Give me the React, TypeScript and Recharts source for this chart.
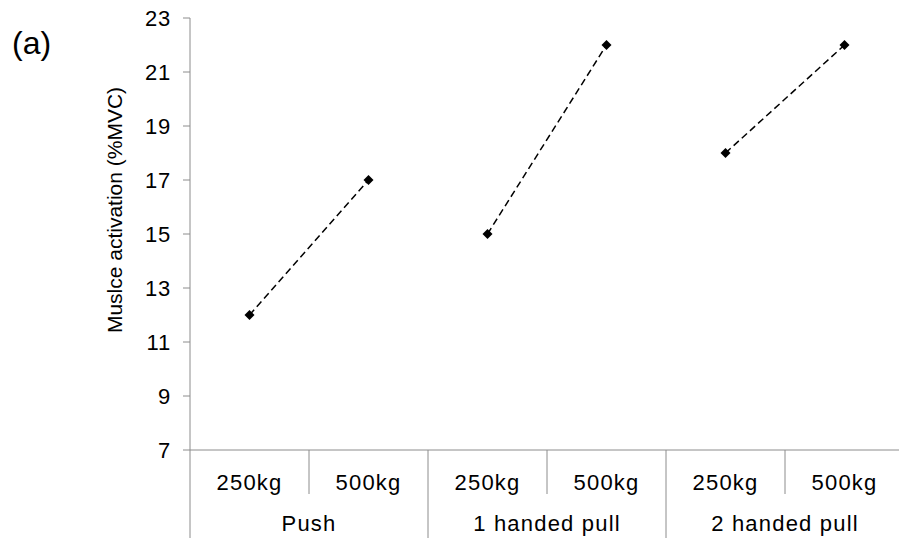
import { Line, LineChart, XAxis, YAxis } from "recharts";

const loads = ["250kg", "500kg", "250kg", "500kg", "250kg", "500kg"];
const groups = ["Push", "1 handed pull", "2 handed pull"];
const pushValues = [12, 17];
const oneHandValues = [15, 22];
const twoHandValues = [18, 22];
const yTicks = [7, 9, 11, 13, 15, 17, 19, 21, 23];

const AXIS = "#8c8c8c";
const FONT = "'Liberation Sans', Arial, sans-serif";

// one row per category; each group's series only has values in its own two slots
const data = loads.map((load, i) => ({
  key: `c${i}`,
  load,
  push: i < 2 ? pushValues[i] : null,
  one: i >= 2 && i < 4 ? oneHandValues[i - 2] : null,
  two: i >= 4 ? twoHandValues[i - 4] : null,
}));

const HALF_BAND = 59.5;

const Diamond = (props: any) => {
  const { cx, cy, value, index, dataKey } = props;
  if (value == null || cx == null || cy == null) return <g key={`${dataKey}-${index}`} />;
  return (
    <path
      key={`${dataKey}-${index}`}
      d={`M${cx},${cy - 5} L${cx + 5},${cy} L${cx},${cy + 5} L${cx - 5},${cy} Z`}
      fill="#000"
    />
  );
};

const CategoryTick = (props: any) => {
  const { x, y, index } = props;
  const lastInGroup = index % 2 === 1;
  return (
    <g>
      <text
        x={x}
        y={y + 40}
        textAnchor="middle"
        fontSize={22}
        letterSpacing={1.2}
        fontFamily={FONT}
        fill="#000"
      >
        {loads[index]}
      </text>
      {index === 0 && (
        <line x1={x - HALF_BAND} x2={x - HALF_BAND} y1={y} y2={y + 88} stroke={AXIS} />
      )}
      <line
        x1={x + HALF_BAND}
        x2={x + HALF_BAND}
        y1={y}
        y2={lastInGroup ? y + 88 : y + 44}
        stroke={AXIS}
      />
      {lastInGroup && (
        <text
          x={x - HALF_BAND}
          y={y + 81}
          textAnchor="middle"
          fontSize={22}
          letterSpacing={1.2}
          fontFamily={FONT}
          fill="#000"
        >
          {groups[(index - 1) / 2]}
        </text>
      )}
    </g>
  );
};

const YLabel = () => (
  <text
    x={0}
    y={0}
    transform="translate(122, 210) rotate(-90)"
    textAnchor="middle"
    fontSize={21}
    fontFamily={FONT}
    fill="#000"
  >
    Muslce activation (%MVC)
  </text>
);

export default function App() {
  return (
    <div
      style={{
        position: "absolute",
        left: 0,
        top: 0,
        width: 899,
        height: 538,
        overflow: "hidden",
        background: "#fff",
      }}
    >
      <div
        style={{
          position: "absolute",
          left: 12,
          top: 25,
          fontSize: 32,
          fontFamily: FONT,
          color: "#000",
        }}
      >
        (a)
      </div>
      <LineChart
        width={904}
        height={538}
        data={data}
        margin={{ top: 18, right: 0, bottom: 0, left: 0 }}
      >
        <XAxis
          dataKey="key"
          type="category"
          height={88}
          padding={{ left: HALF_BAND, right: HALF_BAND }}
          axisLine={{ stroke: AXIS }}
          tickLine={false}
          tickSize={0}
          tickMargin={0}
          interval={0}
          tick={<CategoryTick />}
        />
        <YAxis
          width={190}
          domain={[7, 23]}
          ticks={yTicks}
          interval={0}
          axisLine={{ stroke: AXIS }}
          tickLine={{ stroke: AXIS }}
          tickSize={7}
          tickMargin={12}
          tick={{ fill: "#000", fontSize: 22, fontFamily: FONT, letterSpacing: 0.8 }}
          label={<YLabel />}
        />
        {[{ k: "push" }, { k: "one" }, { k: "two" }].map((s) => (
          <Line
            key={s.k}
            dataKey={s.k}
            stroke="#000"
            strokeWidth={1.5}
            strokeDasharray="7 4"
            dot={Diamond}
            activeDot={false}
            connectNulls={false}
            isAnimationActive={false}
          />
        ))}
      </LineChart>
    </div>
  );
}
